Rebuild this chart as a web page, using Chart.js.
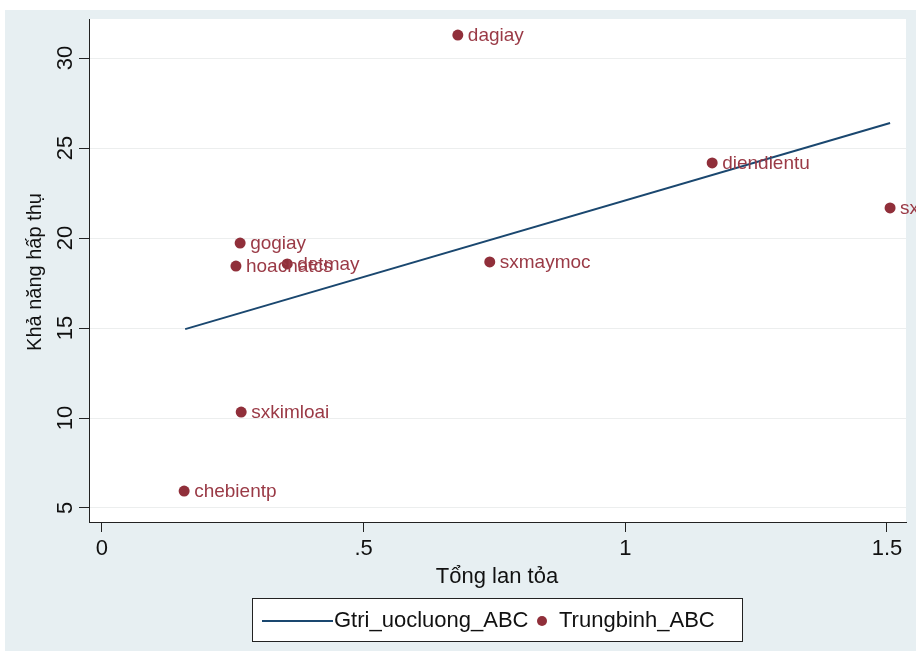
<!DOCTYPE html>
<html>
<head>
<meta charset="utf-8">
<script src="https://cdn.jsdelivr.net/npm/chart.js@4/dist/chart.umd.min.js"></script>
<style>
  html, body { margin: 0; padding: 0; background: #fff; }
  #wrap { width: 916px; height: 651px; }
</style>
</head>
<body>
<div id="wrap"><canvas id="chart" width="916" height="651"></canvas></div>
<script>
// data
const sectors = ['dagiay', 'diendientu', 'sx', 'gogiay', 'hoachatcs', 'detmay', 'sxmaymoc', 'sxkimloai', 'chebientp'];
const tongLanToa = [0.680, 1.166, 1.506, 0.264, 0.256, 0.354, 0.741, 0.266, 0.157];
const trungbinhABC = [31.28, 24.17, 21.67, 19.72, 18.44, 18.56, 18.67, 10.33, 5.94];
const fitX = [0.159, 1.506];
const gtriUocluong = [14.94, 26.39];
const xTicks = [0, 0.5, 1, 1.5];
const xTickLabels = ['0', '.5', '1', '1.5'];
const yTicks = [5, 10, 15, 20, 25, 30];

const FONT = '"Liberation Sans", Arial, sans-serif';
const MAROON = '#902f3a';
const NAVY = '#1a476f';

// nen xanh nhat + vung ve trang
const bgPlugin = {
    id: 'bg',
    beforeDraw(chart) {
        const { ctx, chartArea: a } = chart;
        ctx.save();
        ctx.fillStyle = '#ffffff';
        ctx.fillRect(0, 0, chart.width, chart.height);
        ctx.fillStyle = '#e7eff2';
        ctx.fillRect(5, 10, chart.width - 5, chart.height - 10);
        ctx.fillStyle = '#ffffff';
        ctx.fillRect(a.left, a.top, a.right - a.left, a.bottom - a.top);
        ctx.restore();
    }
};

// nhan cho tung diem
const labelPlugin = {
    id: 'pointLabels',
    afterDatasetsDraw(chart) {
        const { ctx } = chart;
        const meta = chart.getDatasetMeta(1);
        ctx.save();
        ctx.font = '19px ' + FONT;
        ctx.fillStyle = '#9a3a46';
        ctx.textBaseline = 'middle';
        meta.data.forEach((pt, i) => {
            ctx.fillText(sectors[i], pt.x + 10, pt.y + 1);
        });
        ctx.restore();
    }
};

// tieu de truc + chu giai
const textPlugin = {
    id: 'axisText',
    afterDraw(chart) {
        const { ctx, chartArea: a } = chart;
        ctx.save();
        ctx.fillStyle = '#111';
        ctx.font = '22px ' + FONT;
        ctx.textAlign = 'center';
        ctx.textBaseline = 'middle';
        ctx.fillText('Tổng lan tỏa', 497, 577);
        ctx.font = '20px ' + FONT;
        ctx.save();
        ctx.translate(35, 272);
        ctx.rotate(-Math.PI / 2);
        ctx.fillText('Khả năng hấp thụ', 0, 0);
        ctx.restore();

        // legend box
        ctx.fillStyle = '#fff';
        ctx.fillRect(252, 598, 490, 43);
        ctx.strokeStyle = '#222';
        ctx.lineWidth = 1;
        ctx.strokeRect(252.5, 598.5, 490, 43);
        ctx.strokeStyle = NAVY;
        ctx.lineWidth = 2;
        ctx.beginPath();
        ctx.moveTo(262, 621);
        ctx.lineTo(333, 621);
        ctx.stroke();
        ctx.fillStyle = MAROON;
        ctx.beginPath();
        ctx.arc(542, 621, 5, 0, Math.PI * 2);
        ctx.fill();
        ctx.fillStyle = '#111';
        ctx.font = '22px ' + FONT;
        ctx.textAlign = 'left';
        ctx.fillText('Gtri_uocluong_ABC', 334, 621);
        ctx.fillText('Trungbinh_ABC', 559, 621);
        ctx.restore();
    }
};

const ctx = document.getElementById('chart').getContext('2d');
new Chart(ctx, {
    type: 'scatter',
    data: {
        datasets: [
            {
                type: 'line',
                label: 'Gtri_uocluong_ABC',
                data: fitX.map((x, i) => ({ x: x, y: gtriUocluong[i] })),
                borderColor: NAVY,
                borderWidth: 2,
                pointRadius: 0,
                fill: false,
                tension: 0
            },
            {
                label: 'Trungbinh_ABC',
                data: tongLanToa.map((x, i) => ({ x: x, y: trungbinhABC[i] })),
                backgroundColor: MAROON,
                borderWidth: 0,
                pointRadius: 5.5,
                pointHoverRadius: 5.5
            }
        ]
    },
    options: {
        responsive: false,
        animation: false,
        events: [],
        layout: { padding: { top: 19, right: 10, bottom: 59, left: 24 } },
        plugins: { legend: { display: false }, tooltip: { enabled: false }, title: { display: false } },
        scales: {
            x: {
                type: 'linear',
                min: -0.0248,
                max: 1.5364,
                afterBuildTicks: s => { s.ticks = xTicks.map(v => ({ value: v })); },
                afterFit: s => { s.height = 70; },
                grid: { drawOnChartArea: false, tickLength: 10, tickColor: '#222', lineWidth: 1 },
                border: { display: true, color: '#222', width: 1 },
                ticks: {
                    padding: 4,
                    color: '#111',
                    font: { family: FONT, size: 22 },
                    callback: (v, i) => xTickLabels[i]
                }
            },
            y: {
                type: 'linear',
                min: 4.222,
                max: 32.17,
                afterBuildTicks: s => { s.ticks = yTicks.map(v => ({ value: v })); },
                afterFit: s => { s.width = 65; },
                grid: { color: '#eceeee', tickColor: '#222', tickLength: 10, lineWidth: 1 },
                border: { display: true, color: '#222', width: 1 },
                ticks: {
                    minRotation: 90,
                    maxRotation: 90,
                    crossAlign: 'center',
                    padding: 1,
                    color: '#111',
                    font: { family: FONT, size: 22 },
                    callback: v => String(v)
                }
            }
        }
    },
    plugins: [bgPlugin, labelPlugin, textPlugin]
});
</script>
</body>
</html>
